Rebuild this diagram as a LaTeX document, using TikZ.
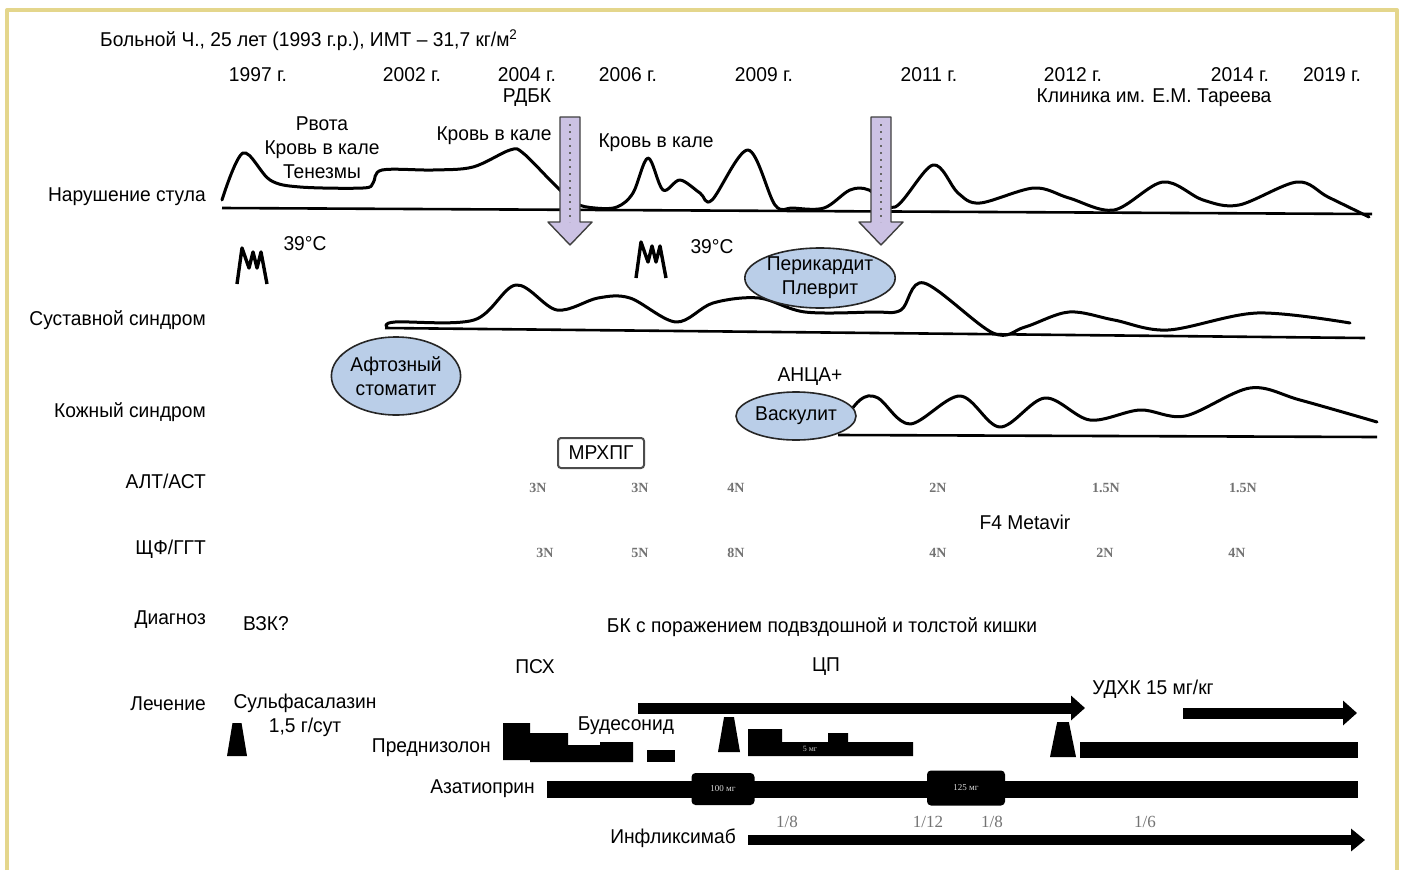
\documentclass[tikz,border=0pt]{standalone}
\usepackage{fontspec}
\setmainfont{Liberation Sans}[FakeStretch=0.96]
\newfontfamily\labfont{Liberation Serif}
\usetikzlibrary{positioning,arrows.meta,shapes.geometric}
\definecolor{framegold}{RGB}{228,214,140}
\definecolor{ovalblue}{RGB}{186,206,232}
\definecolor{arrowlilac}{RGB}{204,194,228}
\definecolor{labgray}{RGB}{115,115,115}
\tikzset{every picture/.style={x=1pt,y=-1pt,line join=round}}
\tikzset{lbl/.style={font=\fontsize{20}{24}\selectfont,inner sep=0pt,align=center}}
\tikzset{rowlbl/.style={lbl,anchor=east}}
\tikzset{wave/.style={line width=3pt,line cap=round}}
\tikzset{axisline/.style={line width=2.6pt}}
\tikzset{oval/.style={ellipse,draw=black!85,line width=1.6pt,fill=ovalblue,lbl}}
\tikzset{labval/.style={font=\labfont\bfseries\fontsize{14}{14}\selectfont,text=labgray,inner sep=0pt}}
\tikzset{fracval/.style={font=\labfont\fontsize{17}{17}\selectfont,text=labgray,inner sep=0pt}}
\tikzset{barline/.style={line width=11pt,-{Triangle[length=14pt,width=24pt]}}}
\tikzset{dosebox/.style={fill=black,rounded corners=4pt,text=white!85!black,
  font=\labfont\fontsize{9}{9}\selectfont,inner sep=0pt}}
\begin{document}
\begin{tikzpicture}
  \fill[white] (0,0) rectangle (1407,870);
  \useasboundingbox (0,0) rectangle (1407,870);
  \draw[framegold,line width=4pt] (7,870) -- (7,10) -- (1397,10) -- (1397,870);

  % header
  \node[lbl,anchor=west] (patient) at (100,40) {Больной Ч., 25 лет (1993 г.р.), ИМТ – 31,7 кг/м\textsuperscript{2}};
  \foreach \yx/\yr in {258/1997,412/2002,527/2004,628/2006,764/2009,929/2011,1073/2012,1240/2014,1332/2019}
    \node[lbl] (y\yr) at (\yx,75) {\yr~г.};
  \node[lbl] (rdbk) at (527,98) {РДБК};
  \node[lbl] (clinic) at (1154,98) {Клиника им. Е.М. Тареева};

  % row labels
  \node[rowlbl] (rstool) at (206,197) {Нарушение стула};
  \node[rowlbl] (rjoint) at (206,320) {Суставной синдром};
  \node[rowlbl] (rskin)  at (206,412) {Кожный синдром};
  \node[rowlbl] (ralt)   at (206,481) {АЛТ/АСТ};
  \node[rowlbl] (rggt)   at (206,549) {ЩФ/ГГТ};
  \node[rowlbl] (rdiag)  at (206,620) {Диагноз};
  \node[rowlbl] (rtreat) at (206,704) {Лечение};

  % stool
  \node[lbl] (vomit) at (322,148) {Рвота\\Кровь в кале\\Тенезмы};
  \node[lbl] (blood1) at (494,136) {Кровь в кале};
  \node[lbl] (blood2) at (656,143) {Кровь в кале};
  \draw[axisline] (222,208) -- (1372,214);
  \draw[wave] plot[smooth,tension=0.55] coordinates {(222,200) (243,153) (270,180) (300,187) (363,188)
    (373,183) (382,170) (433,170) (473,167) (510,150) (523,153) (553,183) (575,203) (595,208) (617,207)
    (633,193) (648,158) (663,190) (680,180) (700,193) (712,200) (748,150) (775,205) (793,208) (824,208)
    (850,190) (869,190) (895,207) (933,165) (958,193) (980,203) (1034,188) (1069,198) (1114,210)
    (1163,182) (1203,200) (1239,205) (1297,182) (1328,197) (1369,217)};

  % fever
  \foreach \fx/\fy in {0/0,399/-6}
    \draw[line width=3.4pt,shift={(\fx,\fy)}] (237,284) -- (242,248) -- (249,268) -- (253,252)
      -- (257,268) -- (261,252) -- (267,284);
  \node[lbl] (fever1) at (305,244) {39°C};
  \node[lbl] (fever2) at (712,247) {39°C};

  % joints
  \draw[axisline] (385,328) -- (1365,338);
  \draw[wave] plot[smooth,tension=0.55] coordinates {(387,327) (395,322) (474,320) (516,285) (557,310)
    (598,298) (630,298) (676,322) (713,303) (759,298) (805,312) (873,312) (901,310) (924,283)
    (993,333) (1025,327) (1069,312) (1114,320) (1168,330) (1257,313) (1350,323)};
  \node[oval,minimum width=140,minimum height=60] (peri) at (820,278) {Перикардит\\Плеврит};
  \node[oval,minimum width=120,minimum height=78] (stom) at (396,376) {Афтозный\\стоматит};

  % skin
  \node[lbl] (anca) at (810,377) {АНЦА+};
  \draw[axisline] (838,435) -- (1377,437);
  \draw[wave] plot[smooth,tension=0.55] coordinates {(838,428) (860,400) (878,398) (910,424)
    (960,396) (1000,427) (1045,398) (1090,420) (1140,410) (1185,416) (1250,388) (1300,400) (1377,422)};
  \node[oval,minimum width=120,minimum height=48] (vasc) at (796,416) {Васкулит};

  % steroid pulse arrows
  \foreach \ax in {570,881} {
    \draw[black!75,line width=1.4pt,fill=arrowlilac] (\ax-10,117) -- (\ax+10,117) -- (\ax+10,222)
      -- (\ax+22,222) -- (\ax,245) -- (\ax-22,222) -- (\ax-10,222) -- cycle;
    \draw[black!60,line width=2pt,dash pattern=on 2pt off 5pt] (\ax,124) -- (\ax,222);
  }

  % labs
  \node[lbl,draw=black!70,line width=2pt,rounded corners=3pt,minimum width=86,minimum height=30] (mrhpg) at (601,453) {МРХПГ};
  \foreach \lx/\lv in {538/3N,640/3N,736/4N,938/2N,1106/1.5N,1243/1.5N}
    \node[labval] at (\lx,488) {\lv};
  \foreach \lx/\lv in {545/3N,640/5N,736/8N,938/4N,1105/2N,1237/4N}
    \node[labval] at (\lx,553) {\lv};
  \node[lbl] (metavir) at (1025,522) {F4 Metavir};

  % diagnosis
  \node[lbl] (ibd) at (266,624) {ВЗК?};
  \node[lbl] (crohn) at (822,627) {БК с поражением подвздошной и толстой кишки};
  \node[lbl] (psc) at (535,667) {ПСХ};
  \node[lbl] (cirr) at (826,667) {ЦП};

  % treatment
  \node[lbl] (sulfa) at (305,715) {Сульфасалазин\\1,5 г/сут};
  \node[lbl] (udca) at (1153,689) {УДХК 15 мг/кг};
  \node[lbl] (bude) at (626,726) {Будесонид};
  \node[lbl,anchor=east] (pred) at (491,748) {Преднизолон};
  \node[lbl,anchor=east] (aza) at (535,789) {Азатиоприн};
  \node[lbl,anchor=east] (ifx) at (736,838) {Инфликсимаб};

  \draw[barline] (638,708) -- (1085,708);
  \draw[barline] (1183,713) -- (1357,713);
  \foreach \tx/\tw/\tt/\tb in {237/10/723/756,729/11/717/752,1063/13/722/757}
    \fill (\tx-\tw,\tb) -- (\tx-0.45*\tw,\tt) -- (\tx+0.45*\tw,\tt) -- (\tx+\tw,\tb) -- cycle;
  \fill (503,723) -- (530,723) -- (530,733) -- (568,733) -- (568,745) -- (600,745) -- (600,742)
    -- (633,742) -- (633,762) -- (530,762) -- (530,760) -- (503,760) -- cycle;
  \fill (647,750) rectangle (675,762);
  \fill (748,729) -- (782,729) -- (782,742) -- (828,742) -- (828,733) -- (848,733) -- (848,742)
    -- (913,742) -- (913,756) -- (748,756) -- cycle;
  \node[font=\labfont\fontsize{8}{8}\selectfont,text=white!80!black,inner sep=0pt] (pred5) at (810,749) {5 мг};
  \fill (1080,742) rectangle (1358,758);
  \fill (547,781) rectangle (1358,798);
  \node[dosebox,minimum width=63,minimum height=32] (aza100) at (723,789) {100 мг};
  \node[dosebox,minimum width=78,minimum height=35] (aza125) at (966,788) {125 мг};
  \draw[line width=10pt,-{Triangle[length=14pt,width=22pt]}] (748,840) -- (1365,840);
  \foreach \fx/\fv in {787/1\slash 8,928/1\slash 12,992/1\slash 8,1145/1\slash 6}
    \node[fracval] at (\fx,822) {\fv};
\end{tikzpicture}
\end{document}
